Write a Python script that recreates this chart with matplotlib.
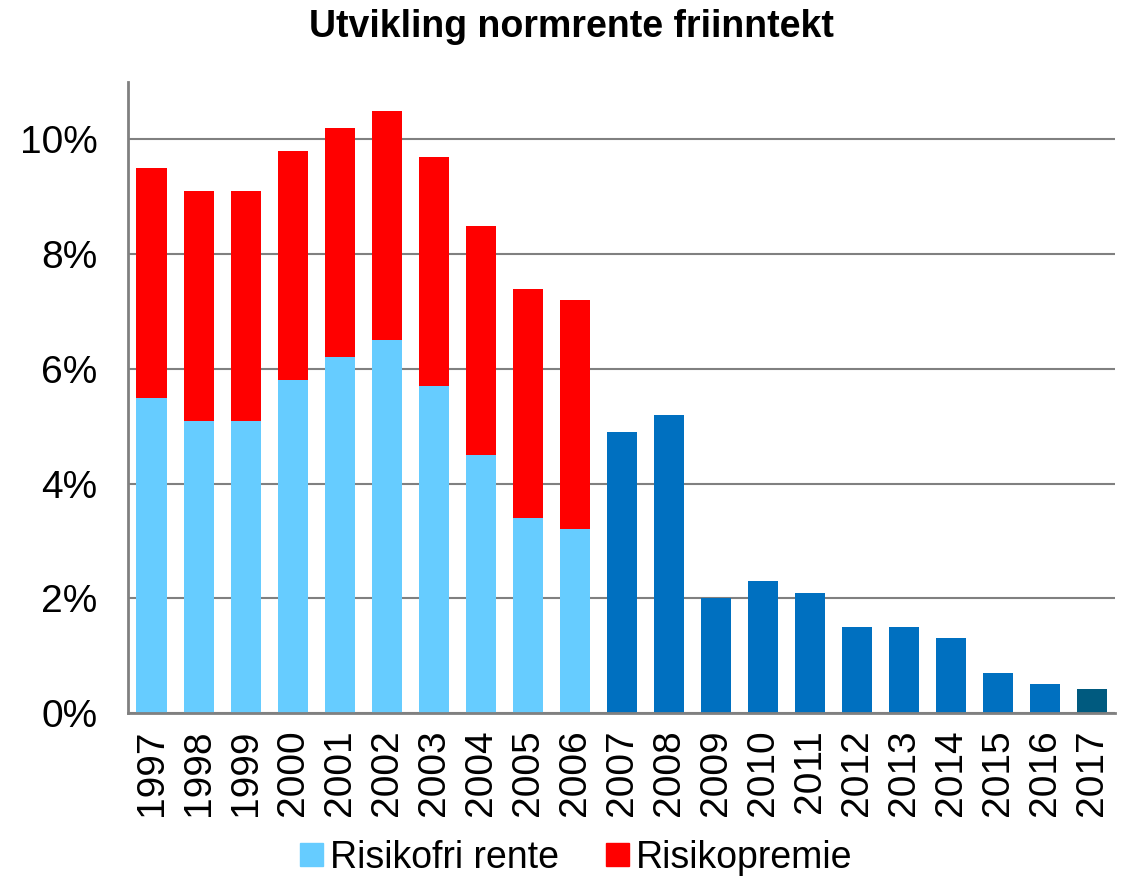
import numpy as np
import matplotlib.pyplot as plt
from matplotlib.ticker import FuncFormatter

plt.rcParams["font.family"] = ["Liberation Sans", "DejaVu Sans"]

# ---------- данные ----------
years = [str(y) for y in range(1997, 2018)]
risikofri = [5.5, 5.1, 5.1, 5.8, 6.2, 6.5, 5.7, 4.5, 3.4, 3.2,
             4.9, 5.2, 2.0, 2.3, 2.1, 1.5, 1.5, 1.3, 0.7, 0.5, 0.42]
premie = [4.0, 4.0, 4.0, 4.0, 4.0, 4.0, 4.0, 4.0, 4.0, 4.0,
          0, 0, 0, 0, 0, 0, 0, 0, 0, 0, 0]
base_colors = ["#66CCFF"] * 10 + ["#0070C0"] * 10 + ["#005A7F"]

fig = plt.figure(figsize=(11.27, 8.83), dpi=100)
ax = fig.add_axes([0.1136, 0.1925, 0.876, 0.7145])

x = np.arange(len(years))
ax.bar(x, risikofri, width=0.64, color=base_colors, zorder=3)
ax.bar(x[:10], premie[:10], bottom=risikofri[:10], width=0.64, color="#FF0000", zorder=3)

ax.set_xlim(-0.5, len(years) - 0.5)
ax.set_ylim(0, 11)
ax.set_yticks([0, 2, 4, 6, 8, 10])
ax.yaxis.set_major_formatter(FuncFormatter(lambda v, p: "%d%%" % v))
ax.set_xticks(x)
ax.set_xticklabels(years, rotation=90)
ax.tick_params(axis="both", length=0, labelsize=28)
ax.tick_params(axis="y", pad=22)
ax.tick_params(axis="x", pad=12)
ax.grid(axis="y", color="#808080", lw=1.5, zorder=0)

for s in ("top", "right"):
    ax.spines[s].set_visible(False)
for s in ("left", "bottom"):
    ax.spines[s].set_color("#808080")
    ax.spines[s].set_linewidth(2)
ax.spines["bottom"].set_zorder(4)

fig.suptitle("Utvikling normrente friinntekt", x=0.507, fontsize=27, fontweight="bold", y=0.99)

h1 = plt.Rectangle((0, 0), 1, 1, color="#66CCFF")
h2 = plt.Rectangle((0, 0), 1, 1, color="#FF0000")
fig.legend([h1, h2], ["Risikofri rente", "Risikopremie"], loc="lower center",
           bbox_to_anchor=(0.5115, -0.030), ncol=2, frameon=False, fontsize=27,
           handlelength=0.6, handleheight=0.6, handletextpad=0.2, columnspacing=1.25)

fig.savefig("out.png", dpi=100)
